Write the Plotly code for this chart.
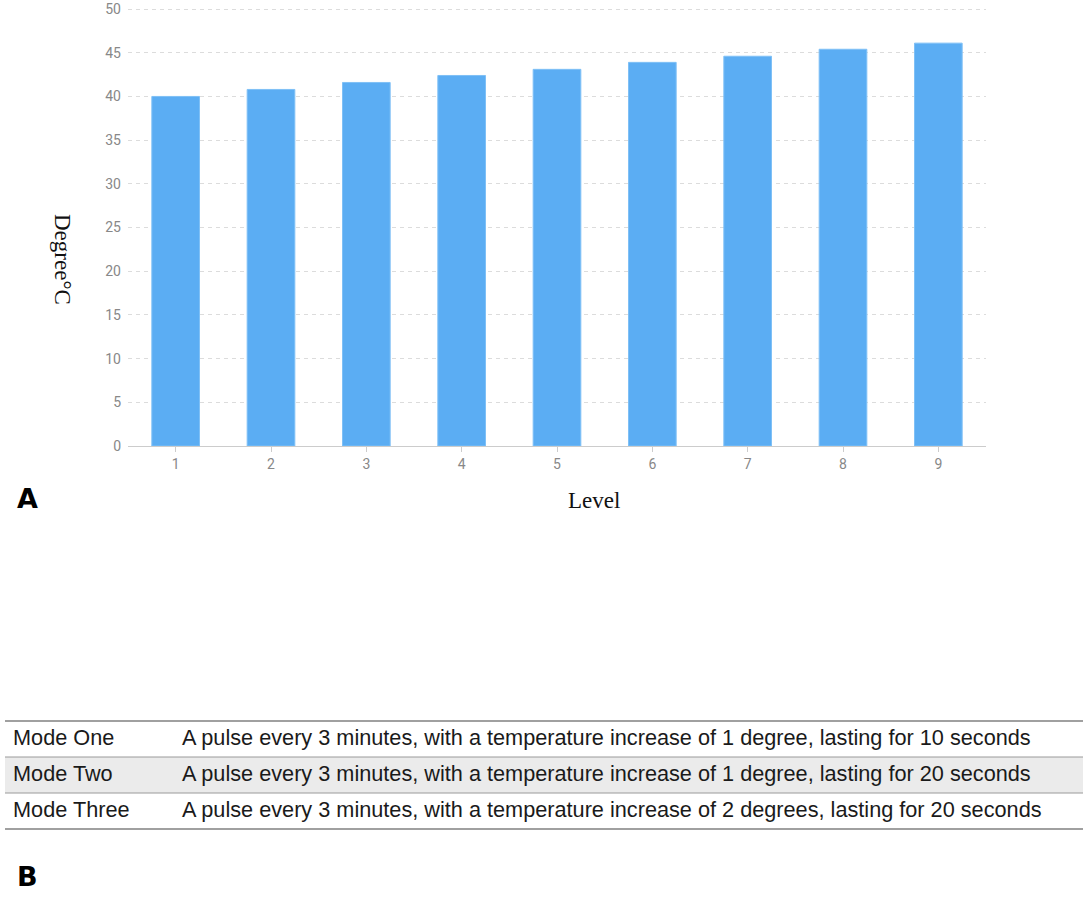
import plotly.graph_objects as go

# ---- data ----
levels = [1, 2, 3, 4, 5, 6, 7, 8, 9]
temperatures = [40.0, 40.8, 41.6, 42.4, 43.1, 43.9, 44.6, 45.4, 46.1]
y_ticks = [0, 5, 10, 15, 20, 25, 30, 35, 40, 45, 50]

modes = ["Mode One", "Mode Two", "Mode Three"]
descriptions = [
    "A pulse every 3 minutes, with a temperature increase of 1 degree, lasting for 10 seconds",
    "A pulse every 3 minutes, with a temperature increase of 1 degree, lasting for 20 seconds",
    "A pulse every 3 minutes, with a temperature increase of 2 degrees, lasting for 20 seconds",
]

W, H = 1088, 920
def px(x):
    return x / W
def py(y):
    return 1 - y / H

fig = go.Figure()

fig.add_trace(go.Bar(
    x=levels, y=temperatures,
    marker=dict(color="#5BADF3", line=dict(color="#7fc0f6", width=1)),
    width=0.5,
    showlegend=False,
    hoverinfo="x+y",
))

row_fill = ["#EBEBEB", "#FFFFFF"]
table_font = dict(family="Liberation Sans, Arial, sans-serif", size=21.7, color="#1a1a1a")
fig.add_trace(go.Table(
    domain=dict(x=[px(5), px(1083)], y=[py(829), py(721)]),
    columnwidth=[169, 909],
    header=dict(
        values=[modes[0], descriptions[0]],
        align="left", height=36,
        fill=dict(color="#FFFFFF"),
        line=dict(color="rgba(0,0,0,0)", width=0),
        font=table_font,
    ),
    cells=dict(
        values=[modes[1:], descriptions[1:]],
        align="left", height=36,
        fill=dict(color=[row_fill, row_fill]),
        line=dict(color="rgba(0,0,0,0)", width=0),
        font=table_font,
    ),
))

shapes = []
for yy, col, w in [(721, "#808080", 1.5), (757, "#9a9a9a", 1), (793, "#9a9a9a", 1), (829, "#808080", 1.5)]:
    shapes.append(dict(type="line", xref="paper", yref="paper",
                       x0=px(5), x1=px(1083), y0=py(yy), y1=py(yy),
                       line=dict(color=col, width=w)))

tick_font = dict(family="Roboto, Liberation Sans, Arial, sans-serif", size=14, color="#888888")

fig.update_layout(
    width=W, height=H,
    margin=dict(l=0, r=0, t=0, b=0, pad=0),
    paper_bgcolor="white", plot_bgcolor="white",
    xaxis=dict(
        domain=[px(128), px(986)],
        range=[0.5, 9.5],
        tickmode="array", tickvals=levels, ticktext=[str(v) for v in levels],
        ticks="outside", ticklen=5, tickcolor="#cccccc",
        showline=True, linecolor="#cccccc", linewidth=1,
        showgrid=False, zeroline=False,
        tickfont=tick_font,
        automargin=False,
        fixedrange=True,
    ),
    yaxis=dict(
        domain=[py(446), py(8)],
        range=[0, 50.12],
        tickmode="array", tickvals=y_ticks,
        showgrid=True, gridcolor="#dcdcdc", griddash="4px,4px", gridwidth=1,
        showline=False, zeroline=False,
        ticks="", ticklabelstandoff=6,
        tickfont=tick_font,
        automargin=False,
        fixedrange=True,
    ),
    shapes=shapes,
    annotations=[
        dict(text="Degree°C", xref="paper", yref="paper", x=px(63), y=py(259),
             showarrow=False, textangle=90, xanchor="center", yanchor="middle",
             font=dict(family="Liberation Serif, Times New Roman, serif", size=23, color="#111111")),
        dict(text="Level", xref="paper", yref="paper", x=px(594), y=py(500),
             showarrow=False, xanchor="center", yanchor="middle",
             font=dict(family="Liberation Serif, Times New Roman, serif", size=23, color="#111111")),
        dict(text="<b>A</b>", xref="paper", yref="paper", x=px(27), y=py(498),
             showarrow=False, xanchor="center", yanchor="middle",
             font=dict(family="DejaVu Sans, sans-serif", size=27, color="#000000")),
        dict(text="<b>B</b>", xref="paper", yref="paper", x=px(27), y=py(876),
             showarrow=False, xanchor="center", yanchor="middle",
             font=dict(family="DejaVu Sans, sans-serif", size=27, color="#000000")),
    ],
)

fig.write_html("out.html", config={"displayModeBar": False},
               post_script="document.body.style.margin='0';")
